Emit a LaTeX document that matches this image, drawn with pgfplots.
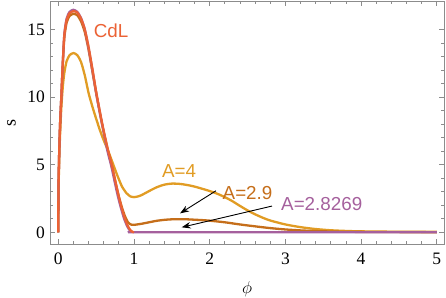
\documentclass[border=0pt]{standalone}
\usepackage{fontspec}
\setmainfont{Liberation Serif}
\newfontfamily\sans{Liberation Sans}
\usepackage{pgfplots}
\pgfplotsset{compat=1.18}
\usetikzlibrary{arrows.meta}
\definecolor{cA4}{rgb}{0.880722,0.611041,0.142051}
\definecolor{cA29}{rgb}{0.772079,0.431554,0.102387}
\definecolor{cCdL}{rgb}{0.922526,0.385626,0.209179}
\definecolor{cA28}{rgb}{0.647624,0.37816,0.614037}
\begin{document}
\begin{tikzpicture}
\begin{axis}[
  scale only axis, width=394.3bp, height=243bp,
  xmin=-0.1096, xmax=5.099, ymin=-0.865, ymax=17.10,
  xtick={0,1,2,3,4,5}, ytick={0,5,10,15},
  minor x tick num=4, minor y tick num=4,
  tick align=inside,
  major tick length=5bp, minor tick length=3bp,
  axis line style={black!45, line width=0.8bp},
  tick style={black!45, line width=0.8bp},
  /pgf/number format/assume math mode=true,
  every tick label/.append style={inner sep=0pt, font=\fontsize{17.5bp}{20bp}\selectfont},
  yticklabel style={anchor=east, xshift=-5bp},
  xticklabel style={anchor=north, yshift=-8.5bp},
  xlabel={$\phi$}, ylabel={s},
  every axis x label/.style={at={(axis description cs:0.5,0)}, anchor=center, yshift=-45bp, font=\fontsize{18bp}{20bp}\selectfont},
  every axis y label/.style={at={(axis description cs:0,0.5)}, anchor=center, xshift=-38.5bp, rotate=90, font=\fontsize{18bp}{20bp}\selectfont},
  clip=true,
]
% A = 4
\addplot[cA4, line width=2.3bp, smooth, tension=0.4] coordinates {
(0,0) (0.001,1.7) (0.004,3.3) (0.013,5.6) (0.025,7.4) (0.04,9.2) (0.06,10.8) (0.08,11.8)
(0.11,12.65) (0.15,13.1) (0.2,13.25) (0.25,13.1) (0.3,12.6) (0.35,11.6) (0.4,10.3)
(0.45,9.3) (0.5,8.4) (0.55,7.55) (0.6,6.8) (0.66,6.0) (0.72,5.1) (0.78,4.2) (0.84,3.4)
(0.9,2.9) (0.95,2.66) (1.0,2.6) (1.05,2.65) (1.1,2.75) (1.2,3.05) (1.3,3.33) (1.4,3.52)
(1.5,3.6) (1.6,3.58) (1.7,3.5) (1.8,3.38) (1.9,3.22) (2.0,3.05) (2.1,2.85) (2.2,2.6)
(2.3,2.3) (2.4,1.95) (2.5,1.62) (2.6,1.33) (2.7,1.08) (2.8,0.87) (3.0,0.58) (3.2,0.38)
(3.4,0.24) (3.6,0.15) (3.8,0.10) (4.0,0.07) (4.5,0.04) (5.0,0.03)};
% A = 2.9
\addplot[cA29, line width=2.3bp, smooth, tension=0.4] coordinates {
(0,0) (0.001,2) (0.004,3.7) (0.013,6.1) (0.025,8.2) (0.04,10) (0.06,12.5) (0.08,14.4)
(0.11,15.5) (0.15,16.0) (0.2,16.15) (0.25,16.05) (0.3,15.6) (0.35,14.8) (0.4,13.5)
(0.45,11.9) (0.5,10.3) (0.55,8.8) (0.6,7.4) (0.66,5.95) (0.71,4.85) (0.76,3.6) (0.8,2.65)
(0.84,1.85) (0.88,1.2) (0.92,0.75) (0.96,0.57) (1.0,0.55) (1.1,0.63) (1.2,0.74) (1.3,0.85)
(1.4,0.92) (1.5,0.96) (1.6,0.97) (1.7,0.96) (1.8,0.93) (1.9,0.90) (2.0,0.86) (2.2,0.74)
(2.4,0.58) (2.6,0.44) (2.8,0.31) (3.0,0.21) (3.2,0.14) (3.4,0.09) (3.6,0.06) (3.8,0.04)
(4.0,0.03) (4.5,0.015) (5.0,0.01)};
% A = 2.8269
\addplot[cA28, line width=2.3bp, smooth, tension=0.4] coordinates {
(0,0) (0.001,2) (0.004,3.7) (0.013,6.1) (0.025,8.2) (0.04,10.0) (0.06,12.6) (0.08,14.65)
(0.11,15.8) (0.15,16.3) (0.2,16.45) (0.25,16.3) (0.3,15.85) (0.35,15.0) (0.4,13.6)
(0.45,12.0) (0.5,10.3) (0.55,8.8) (0.6,7.4) (0.65,6.0) (0.70,4.9) (0.75,3.6) (0.79,2.6)
(0.83,1.75) (0.87,1.0) (0.91,0.45) (0.94,0.18) (0.965,0.03) (0.985,0) (2,0) (3,0) (4,0) (5,0)};
% CdL
\addplot[cCdL, line width=2.3bp, smooth, tension=0.4] coordinates {
(0,0) (0.001,2) (0.004,3.7) (0.013,6.1) (0.025,8.2) (0.04,10.0) (0.06,12.6) (0.08,14.6)
(0.11,15.7) (0.15,16.2) (0.2,16.35) (0.25,16.25) (0.3,15.8) (0.35,15.0) (0.4,13.7)
(0.45,12.1) (0.5,10.4) (0.55,8.9) (0.6,7.5) (0.66,6.0) (0.71,4.9) (0.76,3.6) (0.8,2.6)
(0.84,1.75) (0.88,1.0) (0.92,0.45) (0.95,0.18) (0.98,0.03) (1.0,0)};
% annotations
\draw[-{Stealth[length=9bp,width=6.5bp]}, line width=0.9bp] (axis cs:2.083,3.07) -- (axis cs:1.608,1.40);
\draw[-{Stealth[length=9bp,width=6.5bp]}, line width=0.9bp] (axis cs:2.823,1.94) -- (axis cs:1.630,0.37);
\node[text=cCdL, inner sep=0pt, font=\sans\fontsize{18.8bp}{22bp}\selectfont] at (axis cs:0.697,14.93) {CdL};
\node[text=cA4, inner sep=0pt, font=\sans\fontsize{18.8bp}{22bp}\selectfont] at (axis cs:1.597,4.53) {A=4};
\node[text=cA29, inner sep=0pt, font=\sans\fontsize{18.8bp}{22bp}\selectfont] at (axis cs:2.50,2.90) {A=2.9};
\node[text=cA28, inner sep=0pt, font=\sans\fontsize{18.8bp}{22bp}\selectfont] at (axis cs:3.48,2.11) {A=2.8269};
\end{axis}
\pgfresetboundingbox
\path (current axis.south west) ++(-50bp,-54bp) rectangle ++(446bp,298bp);
\end{tikzpicture}
\end{document}
